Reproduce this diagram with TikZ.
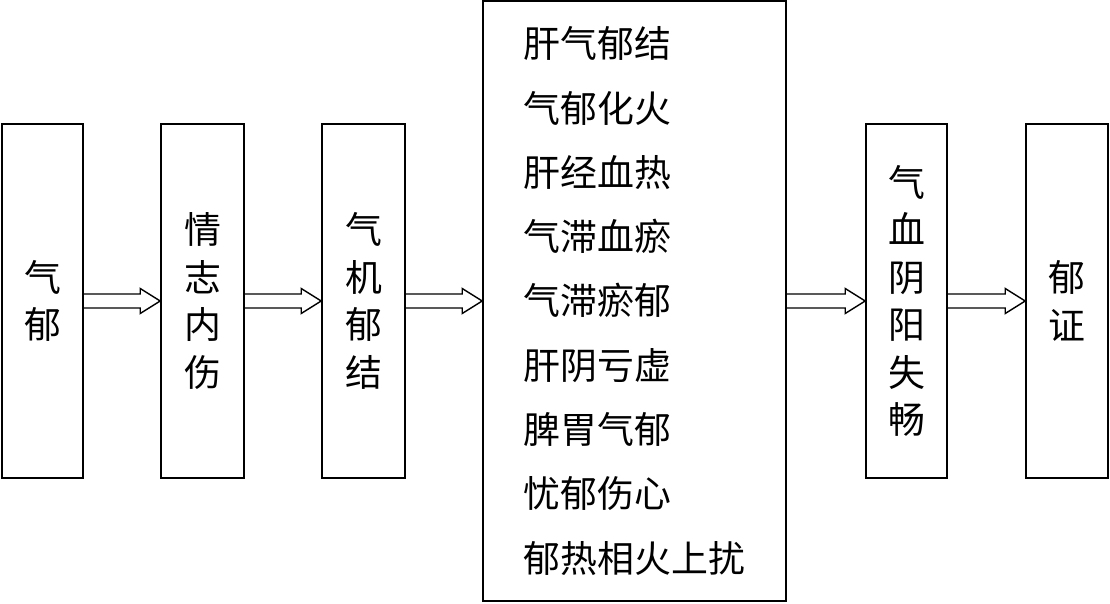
\documentclass[tikz,border=0pt]{standalone}
\usepackage{fontspec}
\newfontfamily\cjk{Noto Sans CJK SC}
\usetikzlibrary{calc}
\tikzset{
  box/.style={draw, line width=0.9pt, inner sep=0pt, minimum width=1.64cm, minimum height=7.08cm, align=center, font=\cjk\fontsize{21}{27}\selectfont},
  hollow/.style={line width=0.8pt, line join=miter}
}
\newcommand{\hollowarrow}[2]{%
  \draw[hollow] ($(#1.east)+(0,0.14)$) -- ($(#2.west)+(-0.4,0.14)$) -- ($(#2.west)+(-0.4,0.25)$) -- (#2.west)
    -- ($(#2.west)+(-0.4,-0.25)$) -- ($(#2.west)+(-0.4,-0.14)$) -- ($(#1.east)+(0,-0.14)$);}
\begin{document}
\begin{tikzpicture}
        \useasboundingbox (0,0) rectangle (22.2,12.06);

        \node[box, minimum width=1.62cm] (qiyu) at (0.85,6.04) {气\\郁};
        \node[box, minimum width=1.66cm] (qingzhi) at (4.05,6.04) {情\\志\\内\\伤};
        \node[box, minimum width=1.66cm] (qiji) at (7.27,6.04) {气\\机\\郁\\结};
        \node[box, minimum width=6.06cm, minimum height=12cm, align=left, font=\cjk\fontsize{21}{36.6}\selectfont] (bingji) at (12.69,6.04)
            {肝气郁结\\气郁化火\\肝经血热\\气滞血瘀\\气滞瘀郁\\肝阴亏虚\\脾胃气郁\\忧郁伤心\\郁热相火上扰};
        \node[box, minimum width=1.62cm] (qixue) at (18.13,6.04) {气\\血\\阴\\阳\\失\\畅};
        \node[box] (yuzheng) at (21.34,6.04) {郁\\证};

        \hollowarrow{qiyu}{qingzhi}
        \hollowarrow{qingzhi}{qiji}
        \hollowarrow{qiji}{bingji}
        \hollowarrow{bingji}{qixue}
        \hollowarrow{qixue}{yuzheng}

\end{tikzpicture}
\end{document}
